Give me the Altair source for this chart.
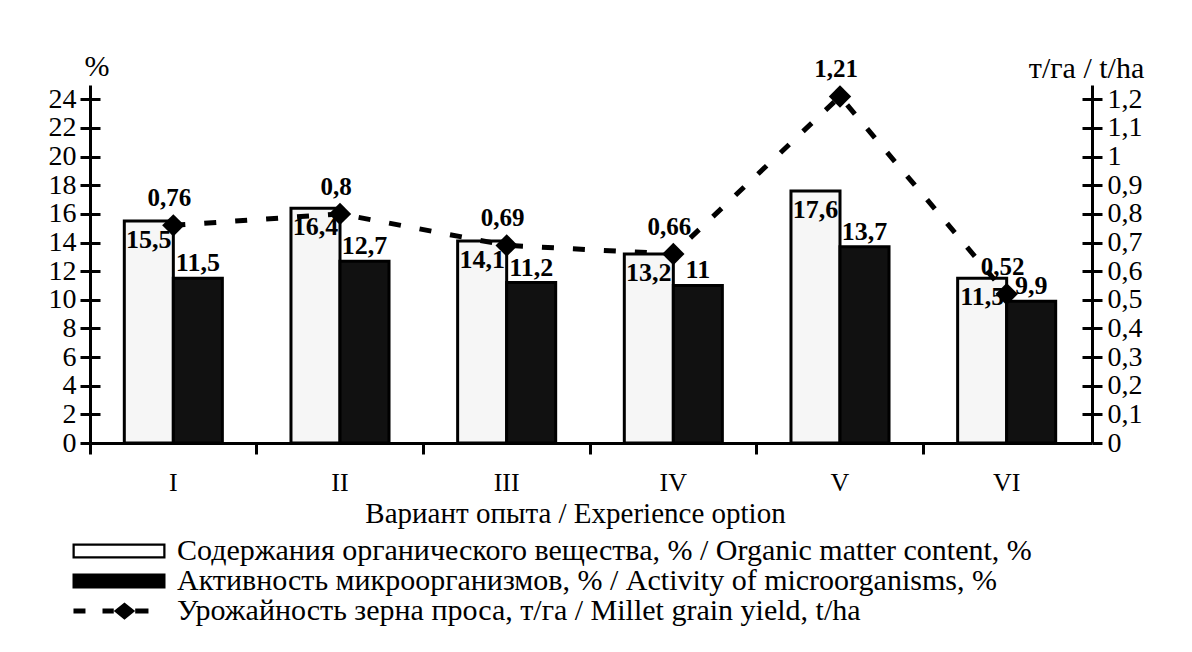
import altair as alt
import pandas as pd

variants = ["I", "II", "III", "IV", "V", "VI"]
organic = [15.5, 16.4, 14.1, 13.2, 17.6, 11.5]
activity = [11.5, 12.7, 11.2, 11.0, 13.7, 9.9]
grain_yield = [0.76, 0.80, 0.69, 0.66, 1.21, 0.52]

left_ticks = [0, 2, 4, 6, 8, 10, 12, 14, 16, 18, 20, 22, 24]
right_ticks = [0, 0.1, 0.2, 0.3, 0.4, 0.5, 0.6, 0.7, 0.8, 0.9, 1.0, 1.1, 1.2]

ORG = "Содержания органического вещества, % / Organic matter content, %"
ACT = "Активность микроорганизмов, % / Activity of microorganisms, %"
YLD = "Урожайность зерна проса, т/га / Millet grain yield, t/ha"

FONT = "Liberation Serif"

# legend symbols: framed box, solid box, dashes with a diamond
BOX = "M-6.2,-1H6.2V1H-6.2ZM-5.9,-0.7V0.7H5.9V-0.7Z"
SOLID = "M-6.2,-1H6.2V1H-6.2Z"
DASH_DIAMOND = ("M-6.07,-0.32H-4.47V0.32H-6.07Z"
                "M-2.2,-0.32H-0.7V0.32H-2.2Z"
                "M-0.7,0L0.73,-1.15L2.16,0L0.73,1.15Z"
                "M2.16,-0.32H3.93V0.32H2.16Z")


def fmt(v):
    return f"{v:g}".replace(".", ",")


bars_df = pd.DataFrame({
    "variant": variants * 2,
    "series": [ORG] * len(variants) + [ACT] * len(variants),
    "value": organic + activity,
})
bars_df["label"] = bars_df["value"].map(fmt)

yield_df = pd.DataFrame({"variant": variants, "value": grain_yield})
yield_df["label"] = yield_df["value"].map(fmt)

legend_df = pd.DataFrame({"series": [ORG, ACT, YLD]})

x_enc = alt.X(
    "variant:N", sort=variants,
    scale=alt.Scale(paddingInner=0, paddingOuter=0),
    axis=alt.Axis(
        bandPosition=0, labelAngle=0,
        tickSize=11, tickWidth=3, tickColor="black",
        domainWidth=3, domainColor="black",
        labelFont=FONT, labelFontSize=26, labelColor="black", labelPadding=15,
        title="Вариант опыта / Experience option", titleFont=FONT, titleFontSize=29,
        titleFontWeight="normal", titleColor="black",
        titleX=485, titleY=79, titleBaseline="alphabetic", titleAlign="center",
    ),
)
xoff_enc = alt.XOffset("series:N", scale=alt.Scale(domain=[ORG, ACT], paddingOuter=0.7, paddingInner=0))

left_scale = alt.Scale(domain=[0, 25], nice=False)
right_scale = alt.Scale(domain=[0, 1.25], nice=False)

left_axis = alt.Axis(
    orient="left", values=left_ticks, grid=False, labelOverlap=False,
    tickSize=10, tickWidth=3, tickColor="black",
    domainWidth=3, domainColor="black",
    labelFont=FONT, labelFontSize=28, labelColor="black", labelPadding=4,
    title="%", titleAngle=0, titleX=6.5, titleY=-10, titleAlign="center",
    titleBaseline="alphabetic", titleFont=FONT, titleFontSize=30,
    titleFontWeight="normal", titleColor="black",
)
left_inner = alt.Axis(
    orient="left", offset=-10, values=left_ticks, grid=False, labels=False, domain=False,
    tickSize=10, tickWidth=3, tickColor="black", title=None,
)
right_axis = alt.Axis(
    orient="right", offset=2, values=right_ticks, grid=False, labelOverlap=False,
    labelExpr="replace(format(datum.value, '~g'), '.', ',')",
    tickSize=10, tickWidth=3, tickColor="black",
    domainWidth=3, domainColor="black",
    labelFont=FONT, labelFontSize=28, labelColor="black", labelPadding=5,
    title="т/га / t/ha", titleAngle=0, titleX=-6, titleY=-8, titleAlign="center",
    titleBaseline="alphabetic", titleFont=FONT, titleFontSize=30,
    titleFontWeight="normal", titleColor="black",
)
right_inner = alt.Axis(
    orient="right", offset=-8, values=right_ticks, grid=False, labels=False, domain=False,
    tickSize=10, tickWidth=3, tickColor="black", title=None,
)

bars = alt.Chart(bars_df).mark_bar(stroke="black", strokeWidth=3).encode(
    x=x_enc,
    xOffset=xoff_enc,
    y=alt.Y("value:Q", scale=left_scale, axis=left_axis),
    fill=alt.Fill("series:N", scale=alt.Scale(domain=[ORG, ACT], range=["#f6f6f6", "#111111"]), legend=None),
)

org_text = alt.Chart(bars_df).transform_filter(
    alt.datum.series == ORG
).mark_text(font=FONT, fontWeight="bold", fontSize=26, dy=19, baseline="middle", color="black").encode(
    x=x_enc,
    xOffset=xoff_enc,
    y=alt.Y("value:Q", scale=left_scale, axis=left_inner),
    text="label:N",
)

act_text = alt.Chart(bars_df).transform_filter(
    alt.datum.series == ACT
).mark_text(font=FONT, fontWeight="bold", fontSize=26, dy=-15, baseline="middle", color="black").encode(
    x=x_enc,
    xOffset=xoff_enc,
    y=alt.Y("value:Q", scale=left_scale, axis=None),
    text="label:N",
)

line = alt.Chart(yield_df).mark_line(
    color="black", strokeWidth=5, strokeDash=[12, 19],
    point=alt.OverlayMarkDef(shape="diamond", size=500, filled=True, color="black", opacity=1),
).encode(
    x=x_enc,
    y=alt.Y("value:Q", scale=right_scale, axis=right_axis),
)

line_text = alt.Chart(yield_df).mark_text(
    font=FONT, fontWeight="bold", fontSize=25, dy=-27, dx=-4, baseline="middle", color="black"
).encode(
    x=x_enc,
    y=alt.Y("value:Q", scale=right_scale, axis=right_inner),
    text="label:N",
)

legend = alt.Legend(
    orient="none", legendX=14, legendY=451, title=None, padding=0,
    symbolSize=225, symbolStrokeWidth=0, symbolOpacity=1,
    labelFont=FONT, labelFontSize=30, labelColor="black", labelOffset=43,
    labelLimit=0, rowPadding=0,
)

legend_layer = alt.Chart(legend_df).transform_filter("false").mark_point(filled=True, opacity=1).encode(
    color=alt.Color("series:N", scale=alt.Scale(domain=[ORG, ACT, YLD], range=["black", "black", "black"]), legend=legend),
    shape=alt.Shape("series:N", scale=alt.Scale(domain=[ORG, ACT, YLD], range=[BOX, SOLID, DASH_DIAMOND]), legend=legend),
)

chart = alt.layer(
    bars, org_text, act_text, line, line_text, legend_layer
).resolve_scale(
    y="independent"
).properties(
    width=1000, height=358,
    autosize=alt.AutoSizeParams(type="none"),
    padding={"left": 82, "top": 77, "right": 94, "bottom": 201},
).configure(
    font=FONT, background="white"
).configure_view(stroke=None)

chart.save("out.html", embed_options={"renderer": "svg", "actions": False})
